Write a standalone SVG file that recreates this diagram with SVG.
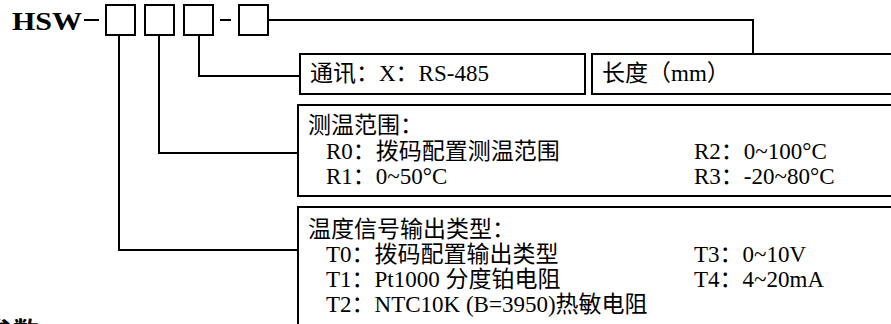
<svg xmlns="http://www.w3.org/2000/svg" width="891" height="324" viewBox="0 0 891 324">
<style>
.t{font-family:"Liberation Serif","Noto Sans CJK SC",serif;font-size:23px;fill:#000}
.box{fill:#fff;stroke:#000;stroke-width:2}
.ln{fill:none;stroke:#000;stroke-width:2}
</style>
<rect width="891" height="324" fill="#fff"/>
<g id="title">
<text x="12" y="30" font-family="Liberation Serif,serif" font-weight="bold" font-size="25" textLength="70" lengthAdjust="spacingAndGlyphs">HSW</text>
<line class="ln" x1="84" y1="20" x2="99" y2="20"/>
<rect class="box" x="106" y="5" width="29" height="30"/>
<rect class="box" x="145" y="5" width="29" height="30"/>
<rect class="box" x="184" y="5" width="29" height="30"/>
<line class="ln" x1="220" y1="20" x2="231" y2="20"/>
<rect class="box" x="239" y="5" width="29" height="30"/>
</g>
<g id="connectors">
<polyline class="ln" points="268,20 753,20 753,54"/>
<polyline class="ln" points="199,35 199,76 300,76"/>
<polyline class="ln" points="159,35 159,153 298,153"/>
<polyline class="ln" points="119,35 119,250 298,250"/>
</g>
<g id="comm">
<rect class="box" x="300" y="54" width="285" height="40"/>
<text class="t" x="310" y="81">通讯：X：RS-485</text>
</g>
<g id="length">
<rect class="box" x="592" y="54" width="310" height="40"/>
<text class="t" x="602" y="81">长度（mm）</text>
</g>
<g id="range">
<rect class="box" x="298" y="105" width="610" height="91"/>
<text class="t" x="308" y="133">测温范围：</text>
<text class="t" x="326" y="159">R0：拨码配置测温范围</text>
<text class="t" x="326" y="184">R1：0~50°C</text>
<text class="t" x="694" y="159">R2：0~100°C</text>
<text class="t" x="694" y="184">R3：-20~80°C</text>
</g>
<g id="output">
<rect class="box" x="298" y="207" width="610" height="140"/>
<text class="t" x="308" y="237">温度信号输出类型：</text>
<text class="t" x="326" y="262">T0：拨码配置输出类型</text>
<text class="t" x="326" y="287">T1：Pt1000 分度铂电阻</text>
<text class="t" x="326" y="312">T2：NTC10K (B=3950)热敏电阻</text>
<text class="t" x="694" y="262">T3：0~10V</text>
<text class="t" x="694" y="287">T4：4~20mA</text>
</g>
<text x="-13" y="341" font-family="Noto Sans CJK SC,sans-serif" font-weight="bold" font-size="26">参数</text>
</svg>
